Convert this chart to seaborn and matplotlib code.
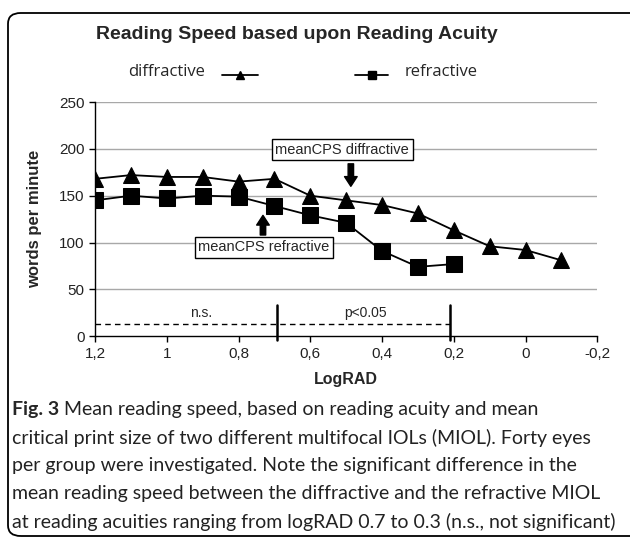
import numpy as np
import pandas as pd
import seaborn as sns
import matplotlib.pyplot as plt
from matplotlib.lines import Line2D
from matplotlib.patches import FancyBboxPatch

# values
lograd_diff = [1.2, 1.1, 1.0, 0.9, 0.8, 0.7, 0.6, 0.5, 0.4, 0.3, 0.2, 0.1, 0.0, -0.1]
wpm_diff = [168, 172, 170, 170, 165, 168, 150, 145, 140, 131, 113, 96, 92, 81]
lograd_refr = [1.2, 1.1, 1.0, 0.9, 0.8, 0.7, 0.6, 0.5, 0.4, 0.3, 0.2]
wpm_refr = [145, 150, 147, 150, 149, 139, 129, 121, 91, 74, 77]

xticks = [1.2, 1.0, 0.8, 0.6, 0.4, 0.2, 0.0, -0.2]
xtick_labels = ['1,2', '1', '0,8', '0,6', '0,4', '0,2', '0', '-0,2']
yticks = [0, 50, 100, 150, 200, 250]

caption = [
    ('Fig. 3', ' Mean reading speed, based on reading acuity and mean'),
    ('', 'critical print size of two different multifocal IOLs (MIOL). Forty eyes'),
    ('', 'per group were investigated. Note the significant difference in the'),
    ('', 'mean reading speed between the diffractive and the refractive MIOL'),
    ('', 'at reading acuities ranging from logRAD 0.7 to 0.3 (n.s., not significant)'),
]

sns.set_style('white')
plt.rcParams['font.family'] = ['Liberation Sans', 'DejaVu Sans']

fig = plt.figure(figsize=(6.3, 5.37), dpi=100)
ax = fig.add_axes([0.151, 0.374, 0.797, 0.436])

df_d = pd.DataFrame({'x': lograd_diff, 'y': wpm_diff})
df_r = pd.DataFrame({'x': lograd_refr, 'y': wpm_refr})
sns.lineplot(data=df_d, x='x', y='y', ax=ax, color='black', lw=1.3,
             marker='^', markersize=11, markeredgecolor='black', zorder=4)
sns.lineplot(data=df_r, x='x', y='y', ax=ax, color='black', lw=1.3,
             marker='s', markersize=11, markeredgecolor='black', zorder=4)

ax.set_xlim(1.2, -0.2)
ax.set_ylim(0, 250)
ax.set_xticks(xticks)
ax.set_xticklabels(xtick_labels)
ax.set_yticks(yticks)
ax.tick_params(axis='both', labelsize=11, direction='out', length=4,
               width=1, color='black', bottom=True, left=True, labelcolor='#222222')
for y in yticks[1:]:
    ax.axhline(y, color='#a8a8a8', lw=1, zorder=1)
for s in ['top', 'right']:
    ax.spines[s].set_visible(False)
for s in ['left', 'bottom']:
    ax.spines[s].set_color('black')
    ax.spines[s].set_linewidth(1)
ax.set_xlabel('LogRAD', fontsize=11.5, fontweight='bold', labelpad=8)
ax.set_ylabel('words per minute', fontsize=12, fontweight='bold', labelpad=12)

# significance markers
ax.plot([1.2, 0.21], [13, 13], ls='--', color='black', lw=1, dashes=(4, 3), zorder=3)
for xv in [0.693, 0.21]:
    ax.plot([xv, xv], [-4, 33], color='black', lw=1.8, clip_on=False, zorder=3)
ax.text(0.905, 17, 'n.s.', fontsize=10, ha='center', va='bottom')
ax.text(0.447, 17, 'p<0.05', fontsize=10, ha='center', va='bottom')

# meanCPS boxes and arrows
bbox = dict(boxstyle='square,pad=0.25', fc='white', ec='black', lw=1)
ax.text(0.511, 199, 'meanCPS diffractive', fontsize=10.5, ha='center', va='center',
        bbox=bbox, zorder=5)
ax.text(0.729, 95, 'meanCPS refractive', fontsize=10.5, ha='center', va='center',
        bbox=bbox, zorder=5)
arrow = dict(arrowstyle='simple,head_width=0.65,head_length=0.5,tail_width=0.28',
             color='black', shrinkA=0, shrinkB=0, mutation_scale=14)
ax.annotate('', xy=(0.487, 160), xytext=(0.487, 184), arrowprops=arrow,
            annotation_clip=False)
ax.annotate('', xy=(0.732, 129), xytext=(0.732, 108), arrowprops=arrow,
            annotation_clip=False)

# title and legend
fig.text(0.471, 0.935, 'Reading Speed based upon Reading Acuity', fontsize=14,
         fontweight='bold', ha='center', va='center')
leg_font = ['Open Sans', 'DejaVu Sans']
fig.text(128 / 630, 1 - 72 / 537, 'diffractive', fontsize=12, family=leg_font,
         ha='left', va='center')
fig.text(405 / 630, 1 - 72 / 537, 'refractive', fontsize=12, family=leg_font,
         ha='left', va='center')
for x0, x1, mk in [(222, 258, '^'), (355, 388, 's')]:
    fig.add_artist(Line2D([x0 / 630, x1 / 630], [1 - 75 / 537] * 2, color='black',
                          lw=1.3, transform=fig.transFigure))
    fig.add_artist(Line2D([(x0 + x1) / 2 / 630], [1 - 75 / 537], color='black',
                          marker=mk, markersize=6, transform=fig.transFigure))

# rounded frame
frame = FancyBboxPatch((8 / 630, 1 - 536 / 537), 640 / 630, 523 / 537,
                       boxstyle='round,pad=0,rounding_size=0.02',
                       transform=fig.transFigure, fc='none', ec='black', lw=1.3,
                       clip_on=False)
fig.add_artist(frame)

# caption
cap_font = ['Lato', 'DejaVu Sans']
fig.canvas.draw()
renderer = fig.canvas.get_renderer()
for i, (bold, rest) in enumerate(caption):
    y = 1 - (410 + 28 * i) / 537
    x = 12 / 630
    if bold:
        t = fig.text(x, y, bold, fontsize=14, fontweight='bold', family=cap_font,
                     ha='left', va='center')
        bb = t.get_window_extent(renderer)
        x = bb.x1 / fig.bbox.width
    fig.text(x, y, rest, fontsize=14, family=cap_font, ha='left', va='center',
             color='#222222')

fig.savefig('out.png', dpi=100)
